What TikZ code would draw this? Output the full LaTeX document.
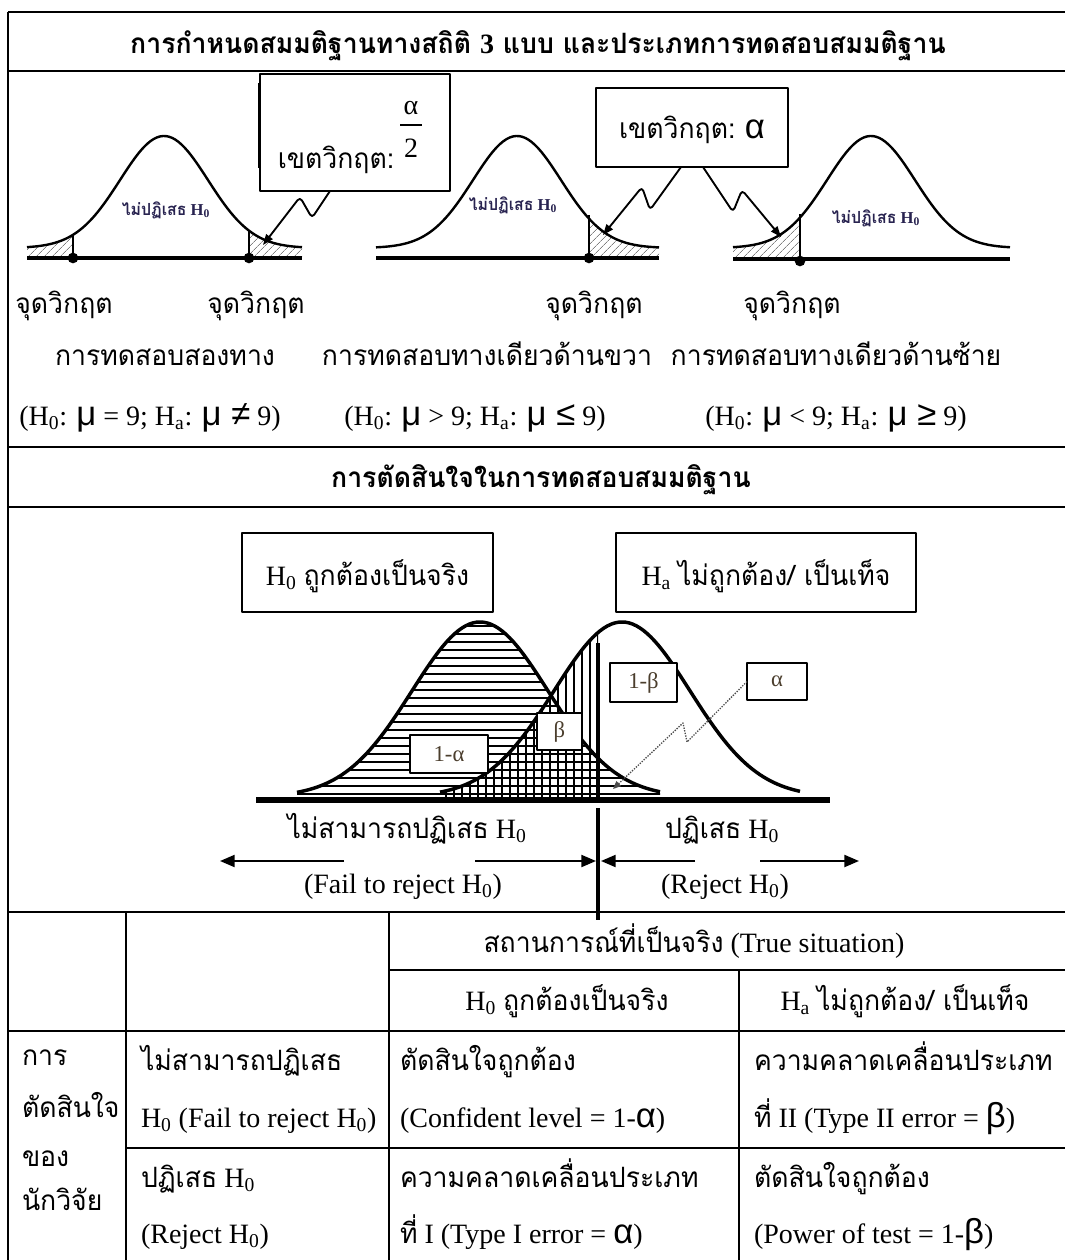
\documentclass[tikz,border=0pt]{standalone}
\usepackage{fontspec}
\setmainfont{Liberation Serif}
\newfontfamily\thfont[Script=Thai,FakeStretch=0.95]{Loma}
\newfontfamily\grkfont{Liberation Sans}
\usetikzlibrary{arrows.meta,patterns.meta}
\newcommand\T[1]{{\thfont #1}}
\newcommand\G[1]{{\grkfont\fontsize{26}{28}\selectfont #1}}
\newcommand\HZ{H\textsubscript{0}}
\newcommand\HA{H\textsubscript{a}}
\definecolor{labcol}{RGB}{75,62,45}
\definecolor{navy}{RGB}{40,35,80}
\begin{document}
\begin{tikzpicture}[x=0.75pt,y=-0.75pt,line join=round,
  every node/.style={inner sep=0pt,outer sep=0pt},
  txt/.style={font=\fontsize{21}{24}\selectfont},
  hdr/.style={font=\fontsize{21}{24}\selectfont\bfseries},
  frame/.style={line width=2.2pt},
  box/.style={draw,line width=1.3pt,fill=white},
  lab/.style={draw,line width=0.9pt,fill=white,text=labcol,font=\fontsize{17}{18}\selectfont},
  small/.style={text=navy,font=\fontsize{12.5}{13}\selectfont\bfseries},
  bell/.style={line width=1.8pt},
  base/.style={line width=3pt},
  hatch/.style={pattern={Lines[angle=45,distance=4pt,line width=0.5pt]},pattern color=gray},
  ptr/.style={line width=1.4pt,rounded corners=3pt,-{Triangle[length=8pt,width=6pt]}},
  bigarr/.style={line width=1.6pt,-{Triangle[length=11pt,width=9pt]}}]
\useasboundingbox (0,0) rectangle (1065,1260);
\fill[white] (0,0) rectangle (1065,1260);

% ---- frame lines ----
\draw[frame] (8,12) -- (1065,12);
\draw[frame] (8,12) -- (8,1260);
\draw[line width=1.3pt] (8,71) -- (1065,71);
\draw[line width=2.2pt] (1020,71) -- (1065,71);
\draw[frame] (8,447) -- (1065,447);
\draw[frame] (8,507) -- (1065,507);

% ---- header 1 ----
\node[hdr,anchor=base] (h1) at (538,53) {\T{การกำหนดสมมติฐานทางสถิติ {\rmfamily 3} แบบ และประเภทการทดสอบสมมติฐาน}};

% ---- curve 1 (two tailed) ----
\fill[hatch] (27,258) -- plot[domain=-137:-91,samples=30] ({164+\x},{248-112*exp(-0.5*(\x/44)*(\x/44))}) -- (73,258) -- cycle;
\fill[hatch] (249,258) -- plot[domain=85:138,samples=30] ({164+\x},{248-112*exp(-0.5*(\x/44)*(\x/44))}) -- (302,258) -- cycle;
\draw[line width=0.8pt] (73,235) -- (73,258);
\draw[line width=0.8pt] (249,231) -- (249,258);
\draw[bell] plot[domain=-137:138,samples=90] ({164+\x},{248-112*exp(-0.5*(\x/44)*(\x/44))});
\draw[base] (27,258) -- (302,258);
\fill (73,258) circle[radius=4pt];
\fill (249,258) circle[radius=4pt];
\node[small,anchor=base] (n1) at (166,215) {\T{ไม่ปฏิเสธ} H\textsubscript{0}};

% ---- curve 2 (right tailed) ----
\fill[hatch] (589,258) -- plot[domain=72:142,samples=30] ({517+\x},{248-112*exp(-0.5*(\x/44)*(\x/44))}) -- (659,258) -- cycle;
\draw[line width=0.8pt] (589,215) -- (589,258);
\draw[bell] plot[domain=-141:142,samples=90] ({517+\x},{248-112*exp(-0.5*(\x/44)*(\x/44))});
\draw[base] (376,258) -- (659,258);
\fill (589,258) circle[radius=4pt];
\node[small,anchor=base] (n2) at (513,210) {\T{ไม่ปฏิเสธ} H\textsubscript{0}};

% ---- curve 3 (left tailed) ----
\fill[hatch] (733,259) -- plot[domain=-138:-71,samples=30] ({871+\x},{248-112*exp(-0.5*(\x/44)*(\x/44))}) -- (800,259) -- cycle;
\draw[line width=0.8pt] (800,214) -- (800,259);
\draw[bell] plot[domain=-138:139,samples=90] ({871+\x},{248-112*exp(-0.5*(\x/44)*(\x/44))});
\draw[base] (733,259) -- (1010,259);
\fill (800,261) circle[radius=4pt];
\node[small,anchor=base] (n3) at (876,223) {\T{ไม่ปฏิเสธ} H\textsubscript{0}};

% ---- callout boxes ----
\node[box,minimum width=142.5pt,minimum height=87.75pt] (b1) at (355,132.5) {};
\draw[line width=2pt] (259,83) -- (259,168);
\node[txt,anchor=base] (b1t) at (336,168) {\T{เขตวิกฤต:}};
\node[txt,anchor=base] (b1a) at (411,114) {α};
\draw[line width=0.8pt] (400,125) -- (422,125);
\node[txt,anchor=base] (b1b) at (411,157) {2};

\node[box,minimum width=144pt,minimum height=59.25pt,text height=19pt,text depth=3.2pt,txt] (b2) at (692,127.5) {\T{เขตวิกฤต:} \G{α}};

\coordinate (tip1) at (263,245);
\coordinate (tip2) at (603,235);
\coordinate (tip3) at (781,237);
\draw[ptr] ([xshift=-18.75pt]b1.south) -- (312,218) -- (300,197) -- (tip1);
\draw[ptr] ([xshift=-8.25pt]b2.south) -- (650,210) -- (642,187) -- (tip2);
\draw[ptr] ([xshift=8.25pt]b2.south) -- (733,212) -- (742,190) -- (tip3);

% ---- section 1 labels ----
\node[txt,anchor=base] (c1) at (64,313) {\T{จุดวิกฤต}};
\node[txt,anchor=base] (c2) at (256,313) {\T{จุดวิกฤต}};
\node[txt,anchor=base] (c3) at (594,313) {\T{จุดวิกฤต}};
\node[txt,anchor=base] (c4) at (792,313) {\T{จุดวิกฤต}};
\node[txt,anchor=base] (r1) at (165,365) {\T{การทดสอบสองทาง}};
\node[txt,anchor=base] (r2) at (487,365) {\T{การทดสอบทางเดียวด้านขวา}};
\node[txt,anchor=base] (r3) at (836,365) {\T{การทดสอบทางเดียวด้านซ้าย}};
\node[txt,anchor=base] (q1) at (150,425) {(\HZ: \G{μ} = 9; \HA: \G{μ ≠} 9)};
\node[txt,anchor=base] (q2) at (475,425) {(\HZ: \G{μ} > 9; \HA: \G{μ ≤} 9)};
\node[txt,anchor=base] (q3) at (836,425) {(\HZ: \G{μ} < 9; \HA: \G{μ ≥} 9)};

% ---- header 2 ----
\node[hdr,anchor=base] (h2) at (541,487) {\T{การตัดสินใจในการทดสอบสมมติฐาน}};

% ---- hypothesis boxes ----
\node[box,txt,minimum width=188.25pt,minimum height=59.25pt,text height=22pt,text depth=3.2pt] (bh0) at (367.5,572.5) {\HZ\ \T{ถูกต้องเป็นจริง}};
\node[box,txt,minimum width=225pt,minimum height=59.25pt,text height=22pt,text depth=3.2pt] (bha) at (766,572.5) {\HA\ \T{ไม่ถูกต้อง/ เป็นเท็จ}};

% ---- overlapping distributions ----
\begin{scope}
 \clip (297,800) -- plot[domain=-183:180,samples=100] ({480+\x},{797-175*exp(-0.5*(\x/68)*(\x/68))}) -- (660,800) -- cycle;
 \foreach \yy in {626,634,...,798} \draw[line width=1.4pt] (280,\yy) -- (680,\yy);
\end{scope}
\begin{scope}
 \clip (430,600) rectangle (598,800);
 \clip (440,800) -- plot[domain=-182:178,samples=100] ({622+\x},{797-175*exp(-0.5*(\x/68)*(\x/68))}) -- (800,800) -- cycle;
 \foreach \xx in {438,446,...,598} \draw[line width=1.4pt] (\xx,600) -- (\xx,800);
\end{scope}
\draw[line width=2.6pt] plot[domain=-183:180,samples=100] ({480+\x},{797-175*exp(-0.5*(\x/68)*(\x/68))});
\draw[line width=2.6pt] plot[domain=-182:178,samples=100] ({622+\x},{797-175*exp(-0.5*(\x/68)*(\x/68))});
\draw[line width=4pt] (256,800) -- (830,800);
\draw[line width=3.2pt] (598,643) -- (598,800);
\draw[line width=3.2pt] (598,808) -- (598,920);

\node[lab,minimum width=58.5pt,minimum height=28.5pt] (l1) at (449,754) {1-α};
\node[lab,minimum width=33.75pt,minimum height=27.75pt] (l2) at (559.5,731.5) {β};
\node[lab,minimum width=50.25pt,minimum height=29.25pt] (l3) at (643.5,682.5) {1-β};
\node[lab,minimum width=45pt,minimum height=27.75pt] (l4) at (777,681.5) {α};
\coordinate (tip4) at (613,789);
\draw[densely dotted,line width=1pt,gray!60!black,-{Triangle[length=6pt,width=5pt]}] (l4.west) -- (687,742) -- (683,723) -- (tip4);

% ---- decision labels and arrows ----
\node[txt,anchor=base] (d1) at (407,838) {\T{ไม่สามารถปฏิเสธ} \HZ};
\node[txt,anchor=base] (d2) at (722,838) {\T{ปฏิเสธ} \HZ};
\node[txt,anchor=base] (e1) at (403,893) {(Fail to reject \HZ)};
\node[txt,anchor=base] (e2) at (725,893) {(Reject \HZ)};
\coordinate (a1s) at (344,861); \coordinate (a1e) at (220,861);
\coordinate (a2s) at (475,861); \coordinate (a2e) at (596,861);
\coordinate (a3s) at (695,861); \coordinate (a3e) at (601,861);
\coordinate (a4s) at (760,861); \coordinate (a4e) at (859,861);
\draw[bigarr] (a1s) -- (a1e);
\draw[bigarr] (a2s) -- (a2e);
\draw[bigarr] (a3s) -- (a3e);
\draw[bigarr] (a4s) -- (a4e);

% ---- table ----
\draw[frame] (8,912) -- (1065,912);
\draw[frame] (389,970) -- (1065,970);
\draw[frame] (8,1031) -- (1065,1031);
\draw[frame] (126,1148) -- (1065,1148);
\draw[frame] (126,912) -- (126,1260);
\draw[frame] (389,912) -- (389,1260);
\draw[frame] (739,970) -- (739,1260);

\node[txt,anchor=base] (ts) at (694,952) {\T{สถานการณ์ที่เป็นจริง} (True situation)};
\node[txt,anchor=base] (th0) at (567,1010) {\HZ\ \T{ถูกต้องเป็นจริง}};
\node[txt,anchor=base] (tha) at (905,1010) {\HA\ \T{ไม่ถูกต้อง/ เป็นเท็จ}};

\node[txt,anchor=base west] (k1) at (22,1065) {\T{การ}};
\node[txt,anchor=base west] (k2) at (22,1117) {\T{ตัดสินใจ}};
\node[txt,anchor=base west] (k3) at (22,1166) {\T{ของ}};
\node[txt,anchor=base west] (k4) at (22,1210) {\T{นักวิจัย}};

\node[txt,anchor=base west] (m1) at (141,1070) {\T{ไม่สามารถปฏิเสธ}};
\node[txt,anchor=base west] (m2) at (141,1127) {\HZ\ (Fail to reject \HZ)};
\node[txt,anchor=base west] (m3) at (141,1187) {\T{ปฏิเสธ} \HZ};
\node[txt,anchor=base west] (m4) at (141,1243) {(Reject \HZ)};

\node[txt,anchor=base west] (s1) at (400,1070) {\T{ตัดสินใจถูกต้อง}};
\node[txt,anchor=base west] (s2) at (400,1127) {(Confident level = 1-\G{α})};
\node[txt,anchor=base west] (s3) at (400,1187) {\T{ความคลาดเคลื่อนประเภท}};
\node[txt,anchor=base west] (s4) at (400,1243) {\T{ที่} I (Type I error = \G{α})};

\node[txt,anchor=base west] (u1) at (754,1070) {\T{ความคลาดเคลื่อนประเภท}};
\node[txt,anchor=base west] (u2) at (754,1127) {\T{ที่} II (Type II error = \G{β})};
\node[txt,anchor=base west] (u3) at (754,1187) {\T{ตัดสินใจถูกต้อง}};
\node[txt,anchor=base west] (u4) at (754,1243) {(Power of test = 1-\G{β})};
\end{tikzpicture}
\end{document}
